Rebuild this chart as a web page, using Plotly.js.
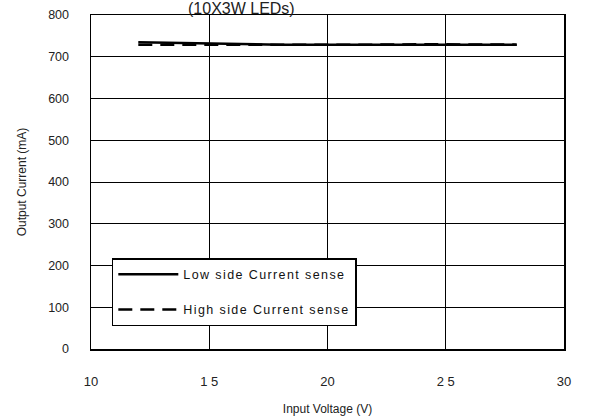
<!DOCTYPE html>
<html>
<head>
<meta charset="utf-8">
<script src="https://cdn.plot.ly/plotly-2.35.2.min.js"></script>
<style>html,body{margin:0;padding:0;background:#fff;}#chart{width:600px;height:420px;}
.legendtext{letter-spacing:1.4px;}</style>
</head>
<body>
<div id="chart"></div>
<script>
const voltage = [12, 13, 14, 15, 16, 17, 18, 20, 22, 24, 26, 28];
const lowSide = [735, 734, 733, 732, 732, 730, 729, 729, 729, 729, 729, 729];
const highSide = [729, 729, 729, 729, 729, 728, 728, 728, 729, 730, 729, 729];
const xTicks = [10, 15, 20, 25, 30];
const xTickLabels = ['10', '1 5', '20', '2 5', '30'];
const yTicks = [0, 100, 200, 300, 400, 500, 600, 700, 800];

const fontFam = 'Liberation Sans, Arial, sans-serif';
const traces = [
  {x: voltage, y: lowSide, name: 'Low side Current sense', mode: 'lines', legendgroup: 'a',
   line: {color: '#000', width: 2.5}},
  {x: voltage, y: highSide, name: 'High side Current sense', mode: 'lines', legendgroup: 'b',
   line: {color: '#000', width: 2.5, dash: '14px,8px'}}
];
const layout = {
  width: 600, height: 420,
  margin: {l: 91, r: 36, t: 15, b: 71},
  paper_bgcolor: '#fff', plot_bgcolor: '#fff',
  font: {family: fontFam, color: '#222', size: 12},
  showlegend: true,
  legend: {x: 0.044, y: 0.272, xanchor: 'left', yanchor: 'top',
    bgcolor: '#fff', bordercolor: '#000', borderwidth: 1.5,
    font: {family: fontFam, size: 12.5, color: '#111'},
    tracegroupgap: 16, itemwidth: 60},
  xaxis: {range: [10, 30], tickvals: xTicks, ticktext: xTickLabels,
    showgrid: true, gridcolor: '#000', gridwidth: 1,
    showline: true, linecolor: '#000', linewidth: 1.5, mirror: true,
    zeroline: false, ticks: '', ticklen: 0, ticklabelstandoff: 20,
    tickfont: {size: 13, color: '#222'},
    title: {text: 'Input Voltage (V)', font: {size: 12, color: '#222'}, standoff: 16}},
  yaxis: {range: [0, 800], tickvals: yTicks,
    showgrid: true, gridcolor: '#000', gridwidth: 1,
    showline: true, linecolor: '#000', linewidth: 1.5, mirror: true,
    zeroline: false, ticks: '', ticklen: 0, ticklabelstandoff: 18,
    tickfont: {size: 12.5, color: '#222'},
    title: {text: 'Output Current (mA)', font: {size: 12, color: '#222'}, standoff: 19}},
  annotations: [{
    text: '(10X3W LEDs)', xref: 'paper', yref: 'paper', x: 0.318, y: 1,
    xanchor: 'center', yanchor: 'bottom', yshift: -4, showarrow: false,
    font: {family: fontFam, size: 16, color: '#222'}
  }]
};
Plotly.newPlot('chart', traces, layout, {staticPlot: true, displayModeBar: false});
</script>
</body>
</html>
